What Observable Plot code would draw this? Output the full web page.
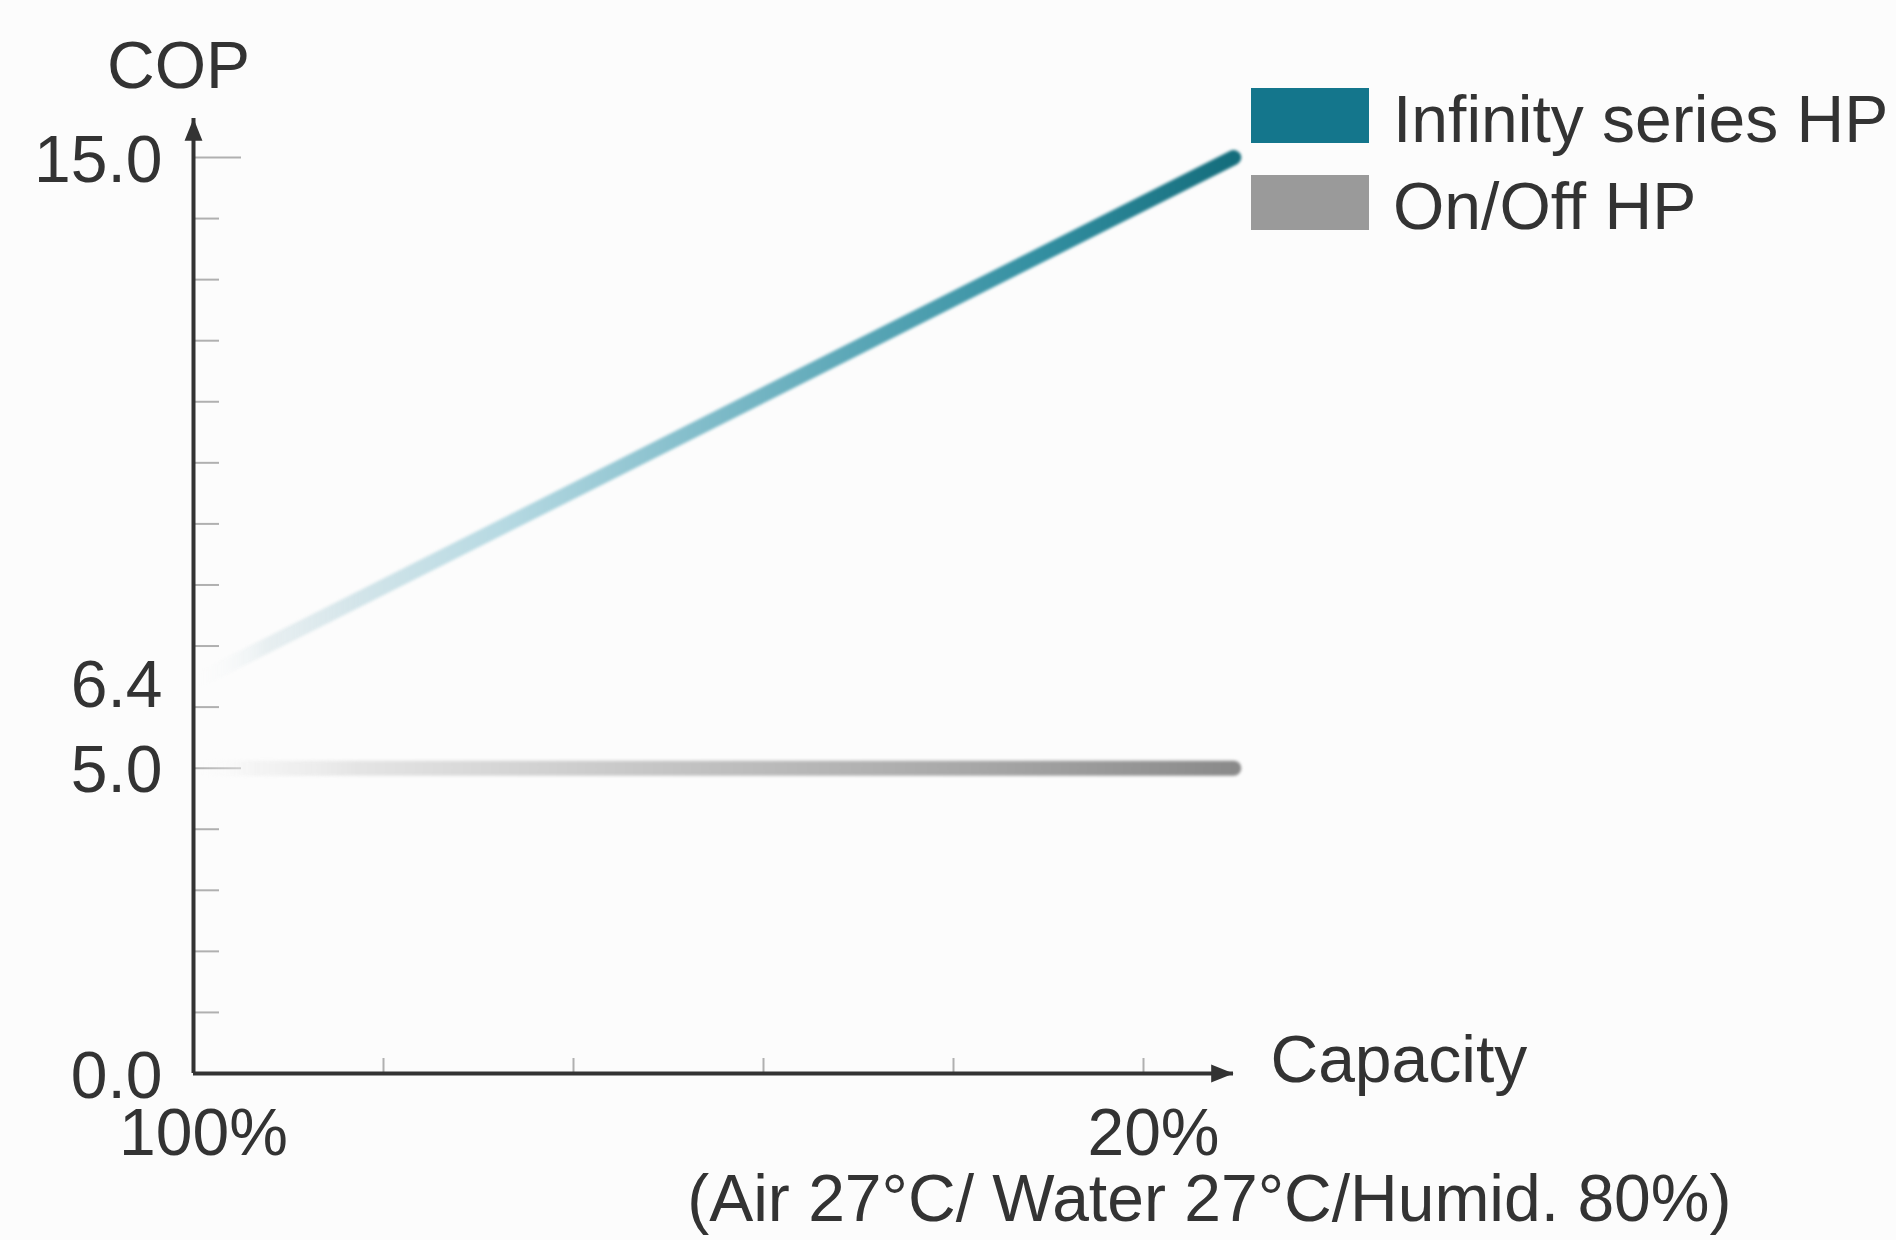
<!DOCTYPE html>
<html>
<head>
<meta charset="utf-8">
<script src="https://cdn.jsdelivr.net/npm/d3@7"></script>
<script src="https://cdn.jsdelivr.net/npm/@observablehq/plot@0.6"></script>
<style>
  html, body { margin: 0; padding: 0; background: #fcfcfc; }
  #wrap { position: relative; width: 1896px; height: 1240px; font-family: "Liberation Sans", Arial, sans-serif; color: #333; }
  #legend { position: absolute; left: 1251px; top: 88px; }
  .item { display: flex; align-items: center; height: 55px; margin-bottom: 32px; font-size: 66px; line-height: 55px; }
  .item span { position: relative; top: 4px; white-space: nowrap; }
  .sw { width: 118px; height: 55px; margin-right: 24px; flex: none; }
</style>
</head>
<body>
<div id="wrap"><div id="legend"></div></div>
<script>
// ---- data ----
const seriesNames = ["Infinity series HP", "On/Off HP"];
const seriesColors = ["#14768c", "#9a9a9a"];
const capacity = [100, 12.4];          // % capacity at line start / end
const infinityCOP = [6.4, 15.0];
const onOffCOP = [5.0, 5.0];
const yTickLabels = [0, 5, 6.4, 15];
const yMinorTicks = [1, 2, 3, 4, 6, 7, 8, 9, 10, 11, 12, 13, 14];
const yMajorTicks = [5, 15];
const xTickLabels = [100, 20];
const xMinorTicks = [84, 68, 52, 36, 20];
const yTitle = "COP";
const xTitle = "Capacity";
const conditionNote = "(Air 27°C/ Water 27°C/Humid. 80%)";

// ---- styles ----
const infStops = [[0, "#ffffff", 0], [0.07, "#dfe9ec", 0.7], [0.16, "#d2e4e9", 1], [0.30, "#b6d9e2", 1],
                  [0.47, "#86bfcc", 1], [0.64, "#5aa6b6", 1], [0.82, "#328ea0", 1], [1, "#146d7c", 1]];
const offStops = [[0, "#ffffff", 0], [0.06, "#eeeeee", 0.6], [0.16, "#e4e4e4", 1], [0.5, "#bfbfbf", 1],
                  [0.75, "#a7a7a7", 1], [1, "#8a8a8a", 1]];

const W = 1896, H = 1240;
const mL = 193, mR = 663, mT = 118, mB = 167;
const frameW = W - mL - mR, frameH = H - mT - mB;
const axisColor = "#333";
const tickColor = "#b0b0b0";

const infData = capacity.map((c, i) => ({capacity: c, cop: infinityCOP[i]}));
const offData = capacity.map((c, i) => ({capacity: c, cop: onOffCOP[i]}));

const arrowUp = {draw(ctx, size) { const s = Math.sqrt(size); ctx.moveTo(0, 0); ctx.lineTo(-0.72 * s, 1.8 * s); ctx.lineTo(0.72 * s, 1.8 * s); ctx.closePath(); }};
const arrowRight = {draw(ctx, size) { const s = Math.sqrt(size); ctx.moveTo(0, 0); ctx.lineTo(-1.8 * s, -0.72 * s); ctx.lineTo(-1.8 * s, 0.72 * s); ctx.closePath(); }};

const chart = Plot.plot({
  width: W, height: H,
  marginLeft: mL, marginRight: mR, marginTop: mT, marginBottom: mB,
  style: {background: "transparent", color: axisColor, fontFamily: "'Liberation Sans', Arial, sans-serif"},
  x: {type: "linear", domain: [100, 20], insetRight: 90, label: null},
  y: {type: "linear", domain: [0, 15], insetTop: 39, label: null},
  marks: [
    Plot.tickY(yMinorTicks, {y: d => d, stroke: tickColor, strokeWidth: 2, insetRight: frameW - 26}),
    Plot.tickY(yMajorTicks, {y: d => d, stroke: tickColor, strokeWidth: 2, insetRight: frameW - 48}),
    Plot.tickX(xMinorTicks, {x: d => d, stroke: tickColor, strokeWidth: 2, insetTop: frameH - 15}),
    Plot.line(offData, {x: "capacity", y: "cop", stroke: "url(#gOff)", strokeWidth: 15, strokeLinecap: "round"}),
    Plot.line(infData, {x: "capacity", y: "cop", stroke: "url(#gInf)", strokeWidth: 15, strokeLinecap: "round"}),
    Plot.ruleX([100], {stroke: axisColor, strokeWidth: 4}),
    Plot.ruleY([0], {stroke: axisColor, strokeWidth: 4}),
    Plot.dot([0], {frameAnchor: "top-left", symbol: arrowUp, r: 7, fill: axisColor, stroke: null}),
    Plot.dot([0], {frameAnchor: "bottom-right", symbol: arrowRight, r: 7, fill: axisColor, stroke: null}),
    Plot.axisY({ticks: yTickLabels, tickSize: 0, tickPadding: 31, tickFormat: d3.format(".1f"), fontSize: 66, label: null, dy: 3}),
    Plot.axisX({ticks: xTickLabels, tickSize: 0, tickPadding: 35, tickFormat: d => d + "%", fontSize: 66, label: null, dx: 10}),
    Plot.text([yTitle], {frameAnchor: "top-left", text: d => d, textAnchor: "middle", dx: -15, dy: -77, fontSize: 66, fill: axisColor}),
    Plot.text([xTitle], {frameAnchor: "bottom-right", text: d => d, textAnchor: "start", dx: 37, dy: 8, fontSize: 66, fill: axisColor}),
    Plot.text([conditionNote], {frameAnchor: "bottom-right", text: d => d, textAnchor: "end", dx: 498, dy: 147, fontSize: 66, fill: axisColor})
  ]
});

// gradients along the x extent of the lines, positioned through the x scale
const sx = chart.scale("x");
const gx0 = sx.apply(capacity[0]), gx1 = sx.apply(capacity[capacity.length - 1]);
const defs = d3.select(chart).insert("defs", ":first-child");
function addGrad(id, stops) {
  const g = defs.append("linearGradient").attr("id", id).attr("gradientUnits", "userSpaceOnUse")
    .attr("x1", gx0).attr("x2", gx1).attr("y1", 0).attr("y2", 0);
  stops.forEach(([o, c, a]) => g.append("stop").attr("offset", o).attr("stop-color", c).attr("stop-opacity", a));
}
addGrad("gInf", infStops);
addGrad("gOff", offStops);
d3.select(chart).selectAll('g[aria-label="line"]').style("filter", "blur(1.5px)");

document.getElementById("wrap").prepend(chart);

// legend
const legend = d3.select("#legend");
seriesNames.forEach((name, i) => {
  const item = legend.append("div").attr("class", "item");
  item.append("div").attr("class", "sw").style("background", seriesColors[i]);
  item.append("span").text(name);
});
</script>
</body>
</html>
